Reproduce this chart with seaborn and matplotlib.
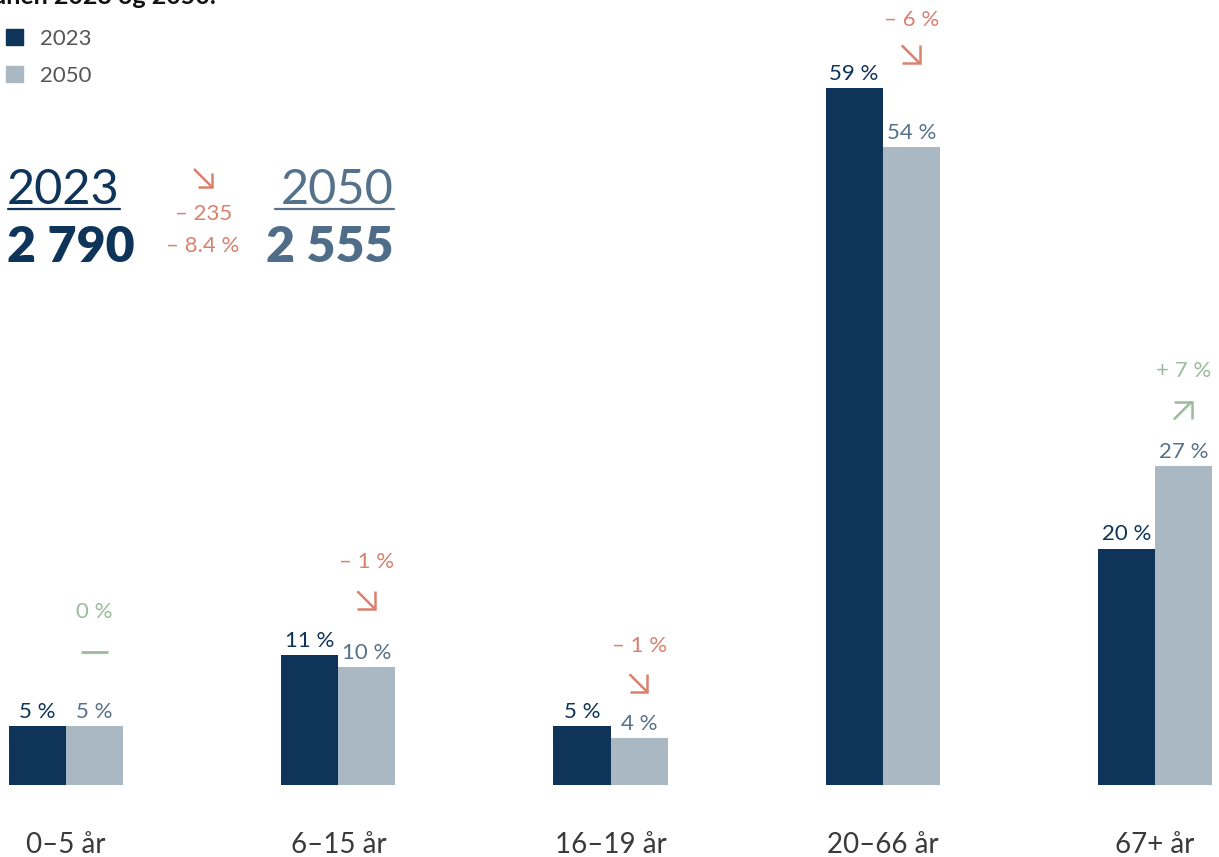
import pandas as pd
import matplotlib
matplotlib.use("Agg")
import matplotlib.pyplot as plt
from matplotlib.patches import FancyArrowPatch
from matplotlib.transforms import offset_copy
import seaborn as sns

# data
groups = ["0–5 år", "6–15 år", "16–19 år", "20–66 år", "67+ år"]
years = ["2023", "2050"]
share_2023 = [5, 11, 5, 59, 20]
share_2050 = [5, 10, 4, 54, 27]
change = [0, -1, -1, -6, 7]
total_2023 = 2790
total_2050 = 2555
title_text = "Aldersfordeling i kommunen 2023 og 2050."

navy = "#0e3459"
light = "#a9b8c3"
label50 = "#56728b"
red = "#d9806f"
green = "#9bbb9b"

df = pd.DataFrame({
    "gruppe": groups * 2,
    "år": [years[0]] * len(groups) + [years[1]] * len(groups),
    "andel": share_2023 + share_2050,
})

sns.set_theme(style="white")
plt.rcParams["font.family"] = ["Lato", "DejaVu Sans"]

W, H = 1219, 857
fig = plt.figure(figsize=(W / 100, H / 100), dpi=100)
ax = fig.add_axes([9 / W, 72 / H, 1203 / W, 780 / H])

sns.barplot(data=df, x="gruppe", y="andel", hue="år", palette=[navy, light],
            width=0.42, gap=0, saturation=1, linewidth=0, ax=ax, legend=False)
ax.set_xlim(-0.21, len(groups) - 1 + 0.21)
ax.set_ylim(0, 66)
sns.despine(ax=ax, left=True, bottom=True)
ax.set_yticks([])
ax.set_xlabel("")
ax.set_ylabel("")
ax.tick_params(axis="x", length=0, pad=34, labelsize=20, labelcolor="#3a3a3a")

# value labels on the bars
ax.bar_label(ax.containers[0], labels=[f"{v} %" for v in share_2023], padding=3,
             fontsize=16, color=navy)
ax.bar_label(ax.containers[1], labels=[f"{v} %" for v in share_2050], padding=3,
             fontsize=16, color=label50)

# change between the years, above the 2050 bars (gaps in pixels)
text_gap = [114, 105, 92, 127, 95]
mark_gap = [74, 66, 54, 92, 56]
pt = 0.72
for i, (b, d) in enumerate(zip(share_2050, change)):
    x = i + 0.105
    if d < 0:
        col, txt = red, f"– {abs(d)} %"
    elif d > 0:
        col, txt = green, f"+ {d} %"
    else:
        col, txt = green, "0 %"
    ax.annotate(txt, (x, b), xytext=(0, text_gap[i] * pt), textcoords="offset points",
                ha="center", va="center", fontsize=16, color=col)
    m = mark_gap[i] * pt
    if d == 0:
        ax.plot([x - 0.05, x + 0.05], [b + mark_gap[i] / 11.81] * 2, color=col, lw=2,
                solid_capstyle="butt", clip_on=False)
    else:
        s = 9.5 * pt
        sy = -1 if d < 0 else 1
        head = offset_copy(ax.transData, fig=fig, x=s, y=m + sy * s, units="points")
        tail = offset_copy(ax.transData, fig=fig, x=-s, y=m - sy * s, units="points")
        ax.annotate("", xy=(x, b), xycoords=head, xytext=(x, b), textcoords=tail,
                    arrowprops=dict(arrowstyle="->,head_length=0.75,head_width=0.75",
                                    color=col, lw=1.8, shrinkA=0, shrinkB=0,
                                    joinstyle="miter", capstyle="butt"),
                    annotation_clip=False)


def fx(x, y):
    return x / W, 1 - y / H


# legend
handles = [plt.Rectangle((0, 0), 1, 1, color=c) for c in (navy, light)]
leg = fig.legend(handles, years, loc="upper left", bbox_to_anchor=fx(6, 29),
                 frameon=False, fontsize=16, handlelength=0.75, handleheight=0.75,
                 handletextpad=0.8, labelspacing=0.75, borderpad=0, borderaxespad=0)
for t in leg.get_texts():
    t.set_color("#555555")

# cut-off title at the very top
fig.text(*fx(-268, -4), title_text, ha="left", va="center", fontsize=18,
         fontweight="bold", color="#111111")

# totals block
fig.text(*fx(7, 190), years[0], ha="left", va="center", fontsize=35,
         color=navy)
fig.add_artist(plt.Line2D([8 / W, 120 / W], [1 - 209 / H] * 2, color=navy, lw=1.6))
fig.text(*fx(7, 248), f"{total_2023:,}".replace(",", " "), ha="left", va="center",
         fontsize=36, fontweight="heavy", color=navy)
fig.text(*fx(394, 190), years[1], ha="right", va="center", fontsize=35,
         color=label50)
fig.add_artist(plt.Line2D([275 / W, 394 / W], [1 - 209 / H] * 2, color=label50, lw=1.6))
fig.text(*fx(393, 248), f"{total_2050:,}".replace(",", " "), ha="right", va="center",
         fontsize=36, fontweight="heavy", color="#4f6d88")

diff = total_2050 - total_2023
fig.add_artist(FancyArrowPatch(
    fx(194, 169), fx(213, 188), arrowstyle="->,head_length=7,head_width=7",
    color=red, lw=1.8, transform=fig.transFigure, shrinkA=0, shrinkB=0,
    joinstyle="miter", capstyle="butt"))
fig.text(*fx(204, 214), f"– {abs(diff)}", ha="center", va="center", fontsize=16,
         color=red)
fig.text(*fx(203, 246), f"– {abs(diff) / total_2023 * 100:.1f} %", ha="center",
         va="center", fontsize=16, color=red)

fig.savefig("out.png", dpi=100)
